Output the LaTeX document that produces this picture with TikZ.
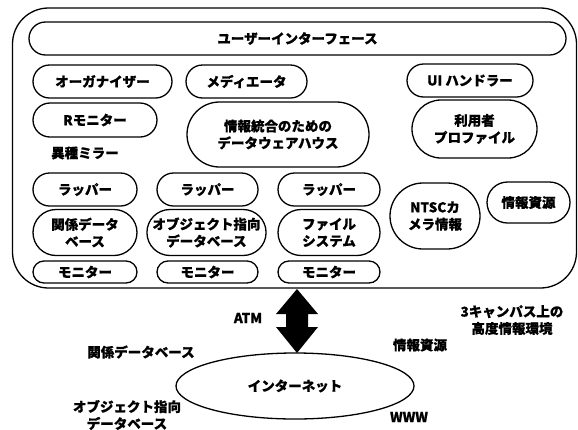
\documentclass[tikz,border=0pt]{standalone}
\usepackage{fontspec}
\setmainfont{Noto Sans CJK JP}[BoldFeatures={FakeBold=0.6}]
\usetikzlibrary{shapes.misc,shapes.geometric}
\newcommand\dfont{\fontsize{13.5}{17}\selectfont\bfseries}
\begin{document}
\begin{tikzpicture}[x=1pt,y=-1pt,
  lw/.style={line width=1.3pt},
  pill/.style={draw, lw, rounded rectangle, inner sep=0pt, align=center, font=\dfont},
  lbl/.style={inner sep=0pt, align=center, font=\dfont}]
\useasboundingbox (0,0) rectangle (578,429);
% outer frame
\node[draw, lw, rounded corners=36pt, minimum width=564pt, minimum height=280pt, inner sep=0pt] (frame) at (294.5,148) {};
% top
\node[pill, minimum width=537pt, minimum height=33pt] (ui) at (297.5,38.5) {ユーザーインターフェース};
\node[pill, minimum width=139pt, minimum height=33pt] (org) at (102.5,81.5) {オーガナイザー};
\node[pill, minimum width=121pt, minimum height=33pt] (med) at (246.5,81.5) {メディエータ};
\node[pill, minimum width=126pt, minimum height=33pt] (uih) at (470,80.5) {UI ハンドラー};
\node[pill, minimum width=124pt, minimum height=34pt] (rmon) at (95,120) {Rモニター};
\node[pill, minimum width=182pt, minimum height=65pt] (wh) at (278,134.5) {情報統合のための\\データウェアハウス};
\node[pill, minimum width=125pt, minimum height=58pt] (prof) at (474.5,129) {利用者\\プロファイル};
\node[lbl] (mirror) at (85,153) {異種ミラー};
% columns
\node[pill, minimum width=104pt, minimum height=33pt] (w1) at (85,189.5) {ラッパー};
\node[pill, minimum width=101pt, minimum height=33pt] (w2) at (207.5,189.5) {ラッパー};
\node[pill, minimum width=102pt, minimum height=33pt] (w3) at (329,189.5) {ラッパー};
\node[pill, minimum width=104pt, minimum height=46pt] (db1) at (85,232.5) {関係データ\\ベース};
\node[pill, minimum width=119pt, minimum height=46pt] (db2) at (206.5,232.5) {オブジェクト指向\\データベース};
\node[pill, minimum width=102pt, minimum height=46pt] (db3) at (329,232.5) {ファイル\\システム};
\node[pill, minimum width=104pt, minimum height=22pt] (m1) at (85,272) {モニター};
\node[pill, minimum width=101pt, minimum height=22pt] (m2) at (207.5,272) {モニター};
\node[pill, minimum width=102pt, minimum height=22pt] (m3) at (329,272) {モニター};
\node[pill, minimum width=90pt, minimum height=66pt] (ntsc) at (435,216) {NTSCカ\\メラ情報};
\node[pill, minimum width=83pt, minimum height=41pt] (src) at (528.5,202.5) {情報資源};
% internet
\node[draw, lw, ellipse, minimum width=238pt, minimum height=66pt, inner sep=0pt, font=\dfont] (inet) at (295,386) {インターネット};
% ATM double arrow
\coordinate (atop) at (297,289);
\coordinate (abot) at (297,353);
\fill (atop) -- ++(21,25) -- ++(-10,0) -- ++(0,13) -- ++(10,0) -- (abot) -- ++(-21,-26) -- ++(10,0) -- ++(0,-13) -- ++(-10,0) -- cycle;
\node[lbl] (atm) at (248,318) {ATM};
% labels
\node[lbl] (campus) at (512,320) {3キャンパス上の\\高度情報環境};
\node[lbl] (reldb) at (141,352) {関係データベース};
\node[lbl] (res2) at (420,345) {情報資源};
\node[lbl] (oodb) at (127,415) {オブジェクト指向\\データベース};
\node[lbl] (www) at (409,417) {WWW};
\end{tikzpicture}
\end{document}
